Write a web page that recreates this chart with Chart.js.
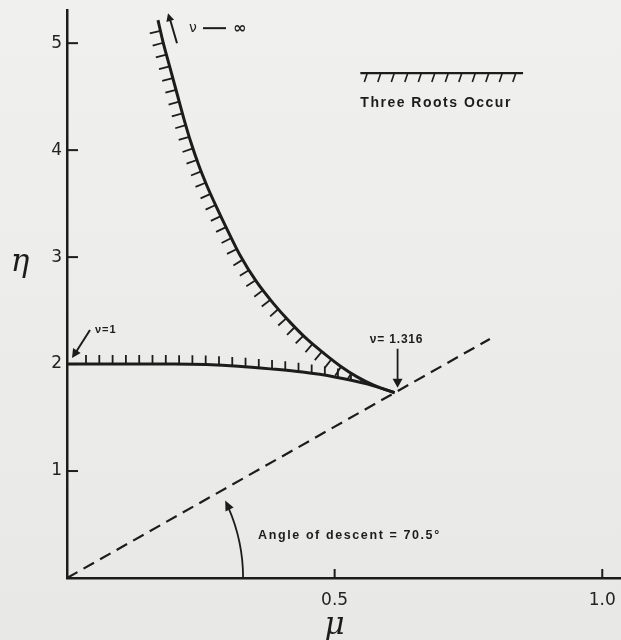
<!DOCTYPE html>
<html>
<head>
<meta charset="utf-8">
<script src="https://cdn.jsdelivr.net/npm/chart.js@4/dist/chart.umd.min.js"></script>
<style>
  html, body { margin: 0; padding: 0; }
  body { background: linear-gradient(#f0f1ef, #e8e9e7); }
  #wrap { width: 621px; height: 640px; position: relative; }
</style>
</head>
<body>
<div id="wrap"><canvas id="c"></canvas></div>
<script>
// Boundary branch that climbs toward ν → ∞
const upperMu  = [0.170, 0.179, 0.193, 0.206, 0.218, 0.231, 0.246, 0.262, 0.280, 0.300,
                  0.323, 0.354, 0.385, 0.417, 0.449, 0.480, 0.511, 0.542, 0.574, 0.612];
const upperEta = [5.215, 5.02, 4.76, 4.52, 4.30, 4.08, 3.86, 3.66, 3.46, 3.25,
                  3.02, 2.77, 2.57, 2.39, 2.23, 2.10, 1.98, 1.88, 1.80, 1.732];

// Boundary branch leaving the η axis at ν = 1
const lowerMu  = [0, 0.10, 0.20, 0.26, 0.32, 0.38, 0.44, 0.50, 0.56, 0.612];
const lowerEta = [2.0, 2.0, 2.0, 1.995, 1.98, 1.955, 1.925, 1.88, 1.815, 1.732];

// Descent line, η = μ·tan(70.5°)
const descentMu  = [0, 0.79];
const descentEta = [0, 2.235];

const xTickValues = [0.5, 1.0];
const xTickLabels = ['0.5', '1.0'];
const yTickValues = [1, 2, 3, 4, 5];
const yTickLabels = ['1', '2', '3', '4', '5'];

const INK = '#1c1c1c';
const toPoints = (xs, ys) => xs.map((v, i) => ({ x: v, y: ys[i] }));

// step along a pixel polyline, calling fn(point, unitTangent) every `step` px
function walk(path, step, offset, fn) {
  let next = offset, acc = 0;
  for (let i = 0; i < path.length - 1; i++) {
    const [x0, y0] = path[i], [x1, y1] = path[i + 1];
    const len = Math.hypot(x1 - x0, y1 - y0);
    const t = [(x1 - x0) / len, (y1 - y0) / len];
    while (next <= acc + len) {
      const d = next - acc;
      fn([x0 + t[0] * d, y0 + t[1] * d], t);
      next += step;
    }
    acc += len;
  }
}

function seg(ctx, a, b) {
  ctx.beginPath(); ctx.moveTo(a[0], a[1]); ctx.lineTo(b[0], b[1]); ctx.stroke();
}

function arrowHead(ctx, tip, dir, len, half) {
  const bx = tip[0] - dir[0] * len, by = tip[1] - dir[1] * len;
  ctx.beginPath();
  ctx.moveTo(tip[0], tip[1]);
  ctx.lineTo(bx - dir[1] * half, by + dir[0] * half);
  ctx.lineTo(bx + dir[1] * half, by - dir[0] * half);
  ctx.closePath();
  ctx.fill();
}

const figurePlugin = {
  id: 'figureMarks',
  afterDatasetsDraw(chart) {
    const { ctx, chartArea: a, scales: { x, y } } = chart;
    const px = m => x.getPixelForValue(m);
    const py = e => y.getPixelForValue(e);
    const up = upperMu.map((m, i) => [px(m), py(upperEta[i])]);
    const lo = lowerMu.map((m, i) => [px(m), py(lowerEta[i])]);

    ctx.save();
    ctx.strokeStyle = INK;
    ctx.fillStyle = INK;

    // inward tick marks
    ctx.lineWidth = 2;
    xTickValues.forEach(v => seg(ctx, [px(v), a.bottom], [px(v), a.bottom - 9]));
    yTickValues.forEach(v => seg(ctx, [a.left, py(v)], [a.left + 11, py(v)]));

    // hatching on the side where three roots occur
    ctx.save();
    ctx.beginPath();
    ctx.moveTo(a.left, a.top);
    ctx.lineTo(up[0][0], a.top);
    up.forEach(p => ctx.lineTo(p[0], p[1]));
    for (let i = lo.length - 1; i >= 0; i--) ctx.lineTo(lo[i][0], lo[i][1]);
    ctx.closePath();
    ctx.clip();
    ctx.lineWidth = 1.8;
    walk(up, 12.2, 11, (p, t) => seg(ctx, p, [p[0] - t[1] * 11, p[1] + t[0] * 11]));
    walk(lo, 13.3, 19, p => seg(ctx, p, [p[0], p[1] - 9]));
    ctx.restore();

    // key: hatched line with caption
    const kx0 = px(0.548), kx1 = px(0.852), ky = py(4.72);
    ctx.lineWidth = 2.2;
    seg(ctx, [kx0, ky], [kx1, ky]);
    ctx.lineWidth = 1.6;
    for (let hx = kx0 + 7; hx <= kx1; hx += 13.5) seg(ctx, [hx, ky], [hx - 3, ky + 9]);
    ctx.font = 'bold 14px "Liberation Sans", Arial, sans-serif';
    ctx.letterSpacing = '1.5px';
    ctx.textAlign = 'left';
    ctx.textBaseline = 'alphabetic';
    ctx.fillText('Three Roots Occur', kx0, ky + 34);

    // ν → ∞ at the top of the upper branch
    const s = up[0];
    ctx.lineWidth = 2;
    seg(ctx, [s[0] + 19, s[1] + 23], [s[0] + 12, s[1] - 1]);
    arrowHead(ctx, [s[0] + 10, s[1] - 7], [-0.28, -0.96], 8, 4);
    ctx.font = '14px "DejaVu Sans", sans-serif';
    ctx.letterSpacing = '0px';
    ctx.fillText('ν', s[0] + 31, s[1] + 12);
    ctx.lineWidth = 2;
    seg(ctx, [s[0] + 45, s[1] + 8], [s[0] + 68, s[1] + 8]);
    ctx.font = 'bold 16px "DejaVu Sans", sans-serif';
    ctx.fillText('∞', s[0] + 75, s[1] + 13);

    // ν = 1 at the start of the lower branch
    const l = lo[0];
    ctx.lineWidth = 2;
    seg(ctx, [l[0] + 23, l[1] - 34], [l[0] + 9, l[1] - 12]);
    arrowHead(ctx, [l[0] + 5, l[1] - 6], [-0.54, 0.84], 9, 4.5);
    ctx.font = 'bold 11px "Liberation Sans", Arial, sans-serif';
    ctx.letterSpacing = '1px';
    ctx.fillText('ν=1', l[0] + 28, l[1] - 31);

    // ν = 1.316 at the cusp
    const c = up[up.length - 1];
    ctx.lineWidth = 1.8;
    seg(ctx, [c[0] + 3, c[1] - 44], [c[0] + 3, c[1] - 12]);
    arrowHead(ctx, [c[0] + 3, c[1] - 5], [0, 1], 9, 5);
    ctx.font = 'bold 12px "Liberation Sans", Arial, sans-serif';
    ctx.letterSpacing = '0.8px';
    ctx.textAlign = 'center';
    ctx.fillText('ν= 1.316', c[0] + 2, c[1] - 50);

    // angle of descent arc
    const ox = px(0), oy = py(0), r = px(0.329) - ox;
    ctx.lineWidth = 1.8;
    ctx.beginPath();
    ctx.arc(ox, oy, r, 0, -0.41, true);
    ctx.stroke();
    const phi = 0.455;
    arrowHead(ctx, [ox + r * Math.cos(phi), oy - r * Math.sin(phi)],
              [-Math.sin(phi), -Math.cos(phi)], 10, 4.5);
    ctx.font = 'bold 12.5px "Liberation Sans", Arial, sans-serif';
    ctx.letterSpacing = '1.6px';
    ctx.textAlign = 'left';
    ctx.fillText('Angle of descent = 70.5°', px(0.357), py(0.36));

    // axis symbols
    ctx.letterSpacing = '0px';
    ctx.font = 'italic 31px "DejaVu Serif", serif';
    ctx.textAlign = 'center';
    ctx.fillText('η', 20, py(3) + 14);
    ctx.fillText('μ', px(0.5), a.bottom + 56);
    ctx.restore();
  }
};

new Chart(document.getElementById('c'), {
  type: 'scatter',
  data: {
    datasets: [
      { data: toPoints(upperMu, upperEta), showLine: true, borderColor: INK, borderWidth: 3,
        pointRadius: 0, cubicInterpolationMode: 'monotone' },
      { data: toPoints(lowerMu, lowerEta), showLine: true, borderColor: INK, borderWidth: 3,
        pointRadius: 0, cubicInterpolationMode: 'monotone' },
      { data: toPoints(descentMu, descentEta), showLine: true, borderColor: INK, borderWidth: 2.2,
        borderDash: [12, 7], pointRadius: 0 }
    ]
  },
  options: {
    responsive: true,
    maintainAspectRatio: false,
    animation: false,
    events: [],
    layout: { padding: { top: 10, right: 0, left: 0, bottom: 0 } },
    plugins: { legend: { display: false }, tooltip: { enabled: false } },
    scales: {
      x: {
        type: 'linear', min: 0, max: 1.035,
        grid: { display: false, drawTicks: false },
        border: { display: true, color: INK, width: 2.5 },
        afterBuildTicks: sc => { sc.ticks = xTickValues.map(v => ({ value: v })); },
        afterFit: sc => { sc.height = 62; sc.paddingLeft = 0; sc.paddingRight = 0; },
        ticks: {
          padding: 12, color: '#222',
          font: { family: '"DejaVu Sans", sans-serif', size: 17 },
          callback: v => xTickLabels[xTickValues.indexOf(v)]
        }
      },
      y: {
        type: 'linear', min: 0, max: 5.31,
        grid: { display: false, drawTicks: false },
        border: { display: true, color: INK, width: 2.5 },
        afterBuildTicks: sc => { sc.ticks = yTickValues.map(v => ({ value: v })); },
        afterFit: sc => { sc.width = 67; sc.paddingTop = 0; sc.paddingBottom = 0; },
        ticks: {
          padding: 5, color: '#222',
          font: { family: '"DejaVu Sans", sans-serif', size: 17 },
          callback: v => yTickLabels[yTickValues.indexOf(v)]
        }
      }
    }
  },
  plugins: [figurePlugin]
});
</script>
</body>
</html>
